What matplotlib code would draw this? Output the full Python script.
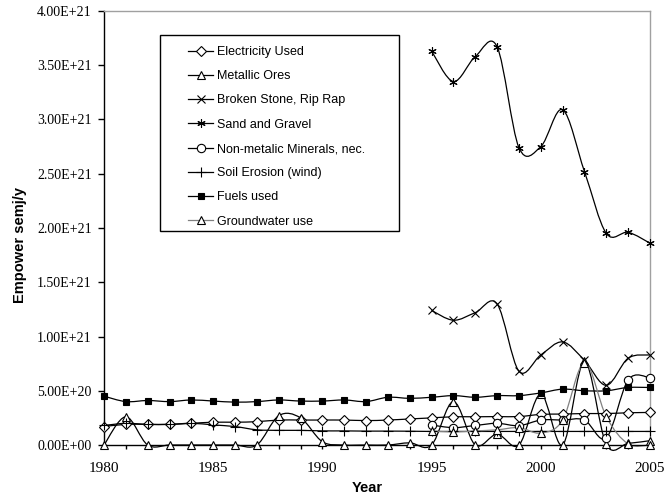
import numpy as np
import matplotlib
matplotlib.use("Agg")
import matplotlib.pyplot as plt
from matplotlib.path import Path
from matplotlib.patches import PathPatch, Rectangle
from matplotlib.lines import Line2D
from matplotlib.ticker import MultipleLocator, FuncFormatter

# years
years_all = list(range(1980, 2006))
years_late = list(range(1995, 2006))

# values, in units of 1E+20 semj/y
electricity = [1.7, 1.9, 1.9, 1.9, 2.0, 2.1, 2.1, 2.15, 2.3, 2.3, 2.3, 2.3, 2.25,
               2.3, 2.4, 2.5, 2.6, 2.6, 2.62, 2.62, 2.82, 2.85, 2.9, 2.9, 2.97, 3.0]
metallic_ores = [0, 2.6, 0, 0, 0, 0, 0, 0, 2.7, 2.5, 0.3, 0, 0, 0, 0.2, 0,
                 4.0, 0, 1.0, 0, 4.7, 0, 7.7, 0.05, 0.15, 0.4]
broken_stone = [12.4, 11.5, 12.2, 13.0, 6.8, 8.3, 9.5, 7.8, 5.5, 8.0, 8.3]
sand_gravel = [36.3, 33.5, 35.8, 36.7, 27.4, 27.5, 30.9, 25.2, 19.5, 19.6, 18.6]
non_metallic = [1.84, 1.6, 1.8, 2.0, 1.78, 2.3, 2.3, 2.3, 0.65, 6.0, 6.2]
soil_erosion = [1.8, 2.0, 1.9, 1.9, 2.0, 1.85, 1.7, 1.4, 1.35, 1.35, 1.3, 1.3, 1.28,
                1.28, 1.27, 1.25, 1.25, 1.25, 1.25, 1.25, 1.25, 1.25, 1.25, 1.25, 1.25, 1.25]
fuels = [4.5, 4.0, 4.1, 4.0, 4.15, 4.05, 3.95, 4.0, 4.15, 4.05, 4.05, 4.15, 4.0,
         4.4, 4.3, 4.4, 4.55, 4.4, 4.55, 4.55, 4.8, 5.15, 5.0, 5.0, 5.3, 5.3]
groundwater = [1.3, 1.2, 1.3, 1.4, 1.6, 1.1, 2.3, 7.6, 2.6, 0.1, 0.0]

labels = ["Electricity Used", "Metallic Ores", "Broken Stone, Rip Rap",
          "Sand and Gravel", "Non-metalic Minerals, nec.", "Soil Erosion (wind)",
          "Fuels used", "Groundwater use"]


def smooth_path(x, y):
    # excel-like smoothed line through the points (bezier segments)
    pts = np.column_stack([x, y])
    n = len(pts)
    verts = [pts[0]]
    codes = [Path.MOVETO]
    for i in range(n - 1):
        p0 = pts[i - 1] if i > 0 else pts[i]
        p1 = pts[i]
        p2 = pts[i + 1]
        p3 = pts[i + 2] if i + 2 < n else pts[i + 1]
        verts += [p1 + (p2 - p0) / 6, p2 - (p3 - p1) / 6, p2]
        codes += [Path.CURVE4] * 3
    return Path(verts, codes)


def main():
    fig = plt.figure(figsize=(6.65, 4.98), dpi=100)
    ax = fig.add_axes([104 / 665, 1 - 445 / 498, 546 / 665, 434 / 498])

    series = [
        (years_all, electricity, dict(marker="D", ms=5, mfc="white"), "black"),
        (years_all, metallic_ores, dict(marker="^", ms=6, mfc="white"), "black"),
        (years_late, broken_stone, dict(marker="x", ms=5.5), "black"),
        (years_late, sand_gravel, dict(marker=(6, 2, 0), ms=6), "black"),
        (years_late, non_metallic, dict(marker="o", ms=6, mfc="white"), "black"),
        (years_all, soil_erosion, dict(marker="+", ms=7), "black"),
        (years_all, fuels, dict(marker="s", ms=5, mfc="black"), "black"),
        (years_late, groundwater, dict(marker="^", ms=6, mfc="white"), "#808080"),
    ]

    handles = []
    for (xs, vals, mk, col), lab in zip(series, labels):
        ys = np.array(vals) * 1e20
        ax.add_patch(PathPatch(smooth_path(np.array(xs, float), ys), fill=False,
                               edgecolor=col, lw=0.9, zorder=2, clip_on=False))
        ax.plot(xs, ys, linestyle="none", mec="black", mew=0.8, zorder=3,
                clip_on=False, **mk)
        handles.append(Line2D([], [], color=col, lw=0.9, mec="black", mew=0.8, **mk))

    ax.set_xlim(1980, 2005)
    ax.set_ylim(0, 4e21)
    ax.xaxis.set_major_locator(MultipleLocator(5))
    ax.xaxis.set_minor_locator(MultipleLocator(1))
    ax.yaxis.set_major_locator(MultipleLocator(5e20))
    ax.yaxis.set_major_formatter(FuncFormatter(lambda v, p: f"{v:.2E}"))

    for s in ["top", "right"]:
        ax.spines[s].set_color("#a0a0a0")
        ax.spines[s].set_linewidth(1.0)
    for s in ["left", "bottom"]:
        ax.spines[s].set_color("black")
        ax.spines[s].set_linewidth(1.0)

    ax.tick_params(axis="y", direction="out", length=4, width=1, pad=5,
                   labelsize=10, labelfontfamily="Liberation Serif")
    ax.tick_params(axis="x", which="both", direction="out", length=3, width=1, pad=9,
                   labelsize=11, labelfontfamily="Liberation Serif")

    fig.text(20 / 665, 1 - 245 / 498, "Empower semj/y", rotation=90, ha="center",
             va="center", fontsize=10.5, fontweight="bold", family="Liberation Sans")
    fig.text(367 / 665, 1 - 488 / 498, "Year", ha="center", va="center",
             fontsize=10.5, fontweight="bold", family="Liberation Sans")

    # legend box
    fig.patches.append(Rectangle((160 / 665, 1 - 231 / 498), 239 / 665, 196 / 498,
                                 transform=fig.transFigure, facecolor="white",
                                 edgecolor="black", lw=1.0, zorder=4))
    leg = fig.legend(handles, labels, loc="upper left",
                     bbox_to_anchor=(188 / 665, 1 - 46 / 498), frameon=False,
                     prop={"family": "Liberation Sans", "size": 9},
                     handlelength=2.0, handletextpad=0.35, labelspacing=0.98,
                     borderpad=0, borderaxespad=0)
    leg.set_zorder(5)

    fig.savefig("out.png", dpi=100)


if __name__ == "__main__":
    main()
